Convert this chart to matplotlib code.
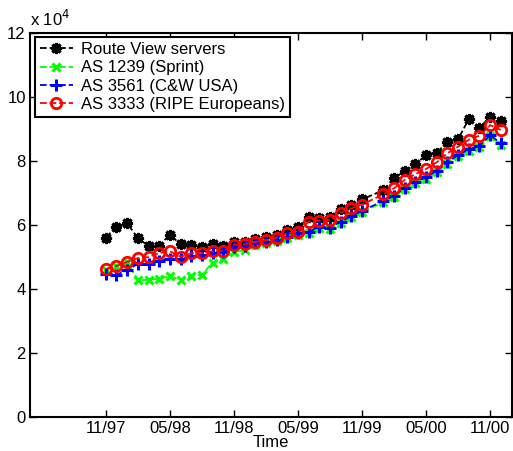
import numpy as np
import matplotlib
matplotlib.use('Agg')
import matplotlib.pyplot as plt

plt.rcParams['font.family'] = ['Liberation Sans', 'DejaVu Sans']

# Months counted from 11/97 (month 25 has no measurement)
months = [0, 1, 2, 3, 4, 5, 6, 7, 8, 9, 10, 11, 12, 13, 14, 15, 16, 17, 18,
          19, 20, 21, 22, 23, 24, 26, 27, 28, 29, 30, 31, 32, 33, 34, 35, 36, 37]

# Routing table sizes, in units of 1e4 prefixes
route_views = [5.60, 5.94, 6.05, 5.58, 5.34, 5.35, 5.69, 5.39, 5.36, 5.30, 5.39, 5.33,
               5.47, 5.47, 5.55, 5.61, 5.69, 5.84, 5.92, 6.23, 6.20, 6.23, 6.48, 6.62,
               6.79, 7.08, 7.45, 7.68, 7.89, 8.18, 8.25, 8.59, 8.67, 9.30, 9.03, 9.37, 9.25]
sprint = [4.60, 4.70, 4.84, 4.27, 4.28, 4.32, 4.39, 4.28, 4.40, 4.44, 4.82, 4.93,
          5.14, 5.21, 5.37, 5.43, 5.48, 5.59, 5.69, 5.74, 5.90, 5.87, 6.06, 6.23,
          6.39, 6.71, 6.86, 7.12, 7.30, 7.44, 7.65, 7.91, 8.14, 8.31, 8.42, 8.76, 8.50]
cw_usa = [4.46, 4.44, 4.58, 4.78, 4.78, 4.87, 4.94, 4.92, 5.02, 5.05, 5.11, 5.14,
          5.32, 5.34, 5.42, 5.47, 5.52, 5.63, 5.73, 5.78, 5.94, 5.91, 6.10, 6.27,
          6.43, 6.75, 6.90, 7.16, 7.34, 7.48, 7.69, 7.95, 8.18, 8.35, 8.46, 8.80, 8.54]
ripe = [4.62, 4.71, 4.84, 4.96, 4.99, 5.12, 5.17, 5.00, 5.11, 5.11, 5.17, 5.18,
        5.37, 5.39, 5.46, 5.52, 5.60, 5.73, 5.78, 6.10, 6.13, 6.15, 6.38, 6.51,
        6.63, 6.95, 7.14, 7.40, 7.58, 7.74, 7.95, 8.23, 8.44, 8.65, 8.78, 9.11, 8.96]

tick_months = [0, 6, 12, 18, 24, 30, 36]
tick_labels = ['11/97', '05/98', '11/98', '05/99', '11/99', '05/00', '11/00']

fig = plt.figure(figsize=(5.13, 4.51), dpi=100)
ax = fig.add_axes([0.0585, 0.0754, 0.9396, 0.8525])

scale = 1e4
ax.plot(months, np.array(route_views) * scale, '--', color='black', lw=1.3,
        marker=(8, 2, 0), ms=8, mew=2.2, label='Route View servers')
ax.plot(months, np.array(sprint) * scale, '--', color='#00ff00', lw=1.3,
        marker='x', ms=6, mew=2.2, label='AS 1239 (Sprint)')
ax.plot(months, np.array(cw_usa) * scale, '--', color='#0000ff', lw=1.3,
        marker='+', ms=8.5, mew=2.2, label='AS 3561 (C&W USA)')
ax.plot(months, np.array(ripe) * scale, '--', color='#ff0000', lw=1.3,
        marker='o', ms=7.5, mew=2, mfc='none', label='AS 3333 (RIPE Europeans)')

ax.set_xlim(-7.1, 38.05)
ax.set_ylim(0, 12e4)
ax.set_xticks(tick_months)
ax.set_xticklabels(tick_labels)
ax.set_yticks(np.arange(0, 13, 2) * scale)
ax.set_yticklabels([str(v) for v in range(0, 13, 2)])
ax.tick_params(direction='in', length=5, width=1, top=True, right=True,
               labelsize=12, pad=3)
for sp in ax.spines.values():
    sp.set_linewidth(1.5)

ax.set_xlabel('Time', fontsize=12, labelpad=-1)
ax.text(0.0, 1.008, 'x 10$^4$', transform=ax.transAxes, fontsize=12,
        ha='left', va='bottom')

leg = ax.legend(loc='upper left', bbox_to_anchor=(0.01, 0.988), fontsize=12,
                handlelength=2.0, handletextpad=0.5, borderpad=0.3,
                labelspacing=0.2, fancybox=False, framealpha=1,
                edgecolor='black', borderaxespad=0)
leg.get_frame().set_linewidth(1.5)

fig.savefig('out.png', dpi=100)
